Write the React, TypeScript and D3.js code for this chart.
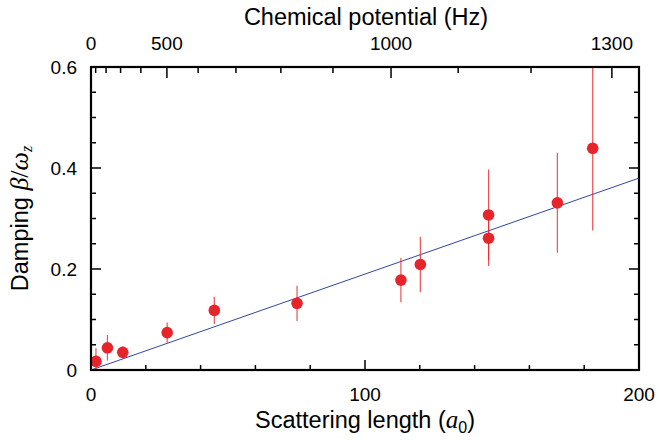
import React from "react";
import * as d3 from "d3";

// Scattering length (a0)
const scatLength = [1.8, 6.0, 11.6, 27.8, 45.0, 75.2, 113.1, 120.2, 145.1, 145.1, 170.2, 183.1];
// Damping beta/omega_z
const damping = [0.017, 0.044, 0.035, 0.074, 0.118, 0.132, 0.178, 0.209, 0.307, 0.261, 0.331, 0.439];
// Error (half-length)
const dampingErr = [0.026, 0.025, 0.012, 0.02, 0.027, 0.035, 0.044, 0.055, 0.09, 0.055, 0.099, 0.163];

// Fit line slope (damping per a0)
const fitSlope = 0.0019;
const fitRange = [0, 200];

// Bottom axis ticks
const xMajorTicks = [0, 100, 200];
const xMinorTicks = [20, 40, 60, 80, 120, 140, 160, 180];
// Left/right axis ticks
const yMajorTicks = [0, 0.2, 0.4, 0.6];
const yMinorTicks = [0.05, 0.1, 0.15, 0.25, 0.3, 0.35, 0.45, 0.5, 0.55];
const yTickLabels = ["0", "0.2", "0.4", "0.6"];

// Top axis: chemical potential (Hz) and equivalent scattering length (a0)
const topMu = [0, 100, 200, 300, 400, 500, 600, 700, 800, 900, 1000, 1100, 1200, 1300];
const topMuAsA = [0, 1.7, 5.5, 10.8, 18.2, 27.7, 39.1, 52.9, 69.3, 88.3, 109.5, 134, 160.6, 190.1];
const topLabelled = [0, 500, 1000, 1300];

const W = 659;
const H = 440;
const M = { left: 91, right: 639, top: 67, bottom: 370 };

export default function App() {
  const x = d3.scaleLinear().domain([0, 200]).range([M.left, M.right]);
  const y = d3.scaleLinear().domain([0, 0.6]).range([M.bottom, M.top]);
  const line = d3
    .line<number>()
    .x((d) => x(d))
    .y((d) => y(d * fitSlope));

  const red = "#e8242b";
  const font = "'Liberation Sans', Arial, Helvetica, sans-serif";
  const mathFont = "'Liberation Serif', 'DejaVu Serif', serif";

  return (
    <svg
      width={W}
      height={H}
      style={{ position: "absolute", left: 0, top: 0, background: "#fff" }}
      fontFamily={font}
    >
      <defs>
        <clipPath id="plotClip">
          <rect x={M.left} y={M.top} width={M.right - M.left} height={M.bottom - M.top} />
        </clipPath>
      </defs>

      {/* fit line */}
      <path
        d={line(fitRange) || ""}
        stroke="#3346a0"
        strokeWidth={1}
        fill="none"
        clipPath="url(#plotClip)"
      />

      {/* error bars */}
      <g clipPath="url(#plotClip)">
        {scatLength.map((a, i) => (
          <line
            key={"e" + i}
            x1={x(a)}
            x2={x(a)}
            y1={y(damping[i] - dampingErr[i])}
            y2={y(damping[i] + dampingErr[i])}
            stroke={red}
            strokeWidth={1.2}
            strokeOpacity={0.8}
          />
        ))}
        {scatLength.map((a, i) => (
          <circle key={"p" + i} cx={x(a)} cy={y(damping[i])} r={5.8} fill={red} />
        ))}
      </g>

      {/* ticks */}
      <g stroke="#000" strokeWidth={1.5}>
        {xMajorTicks.map((t) => (
          <g key={"xm" + t}>
            <line x1={x(t)} x2={x(t)} y1={M.bottom} y2={M.bottom - 10} />
          </g>
        ))}
        {xMinorTicks.map((t) => (
          <line key={"xn" + t} x1={x(t)} x2={x(t)} y1={M.bottom} y2={M.bottom - 5} />
        ))}
        {yMajorTicks.map((t) => (
          <g key={"ym" + t}>
            <line x1={M.left} x2={M.left + 10} y1={y(t)} y2={y(t)} />
            <line x1={M.right} x2={M.right - 10} y1={y(t)} y2={y(t)} />
          </g>
        ))}
        {yMinorTicks.map((t) => (
          <g key={"yn" + t}>
            <line x1={M.left} x2={M.left + 5} y1={y(t)} y2={y(t)} />
            <line x1={M.right} x2={M.right - 5} y1={y(t)} y2={y(t)} />
          </g>
        ))}
        {topMu.map((mu, i) => (
          <line
            key={"tm" + mu}
            x1={x(topMuAsA[i])}
            x2={x(topMuAsA[i])}
            y1={M.top}
            y2={M.top + (topLabelled.includes(mu) && mu !== 0 ? 11 : 6)}
          />
        ))}
      </g>

      {/* frame */}
      <rect
        x={M.left}
        y={M.top}
        width={M.right - M.left}
        height={M.bottom - M.top}
        fill="none"
        stroke="#000"
        strokeWidth={2.2}
      />

      {/* tick labels */}
      <g fontSize={19} fill="#000">
        {xMajorTicks.map((t) => (
          <text key={"xl" + t} x={x(t)} y={401} textAnchor="middle">
            {t}
          </text>
        ))}
        {yMajorTicks.map((t, i) => (
          <text key={"yl" + t} x={77} y={y(t)} dy="0.36em" textAnchor="end">
            {yTickLabels[i]}
          </text>
        ))}
        {topMu.map((mu, i) =>
          topLabelled.includes(mu) ? (
            <text key={"tl" + mu} x={x(topMuAsA[i])} y={50} textAnchor="middle">
              {mu}
            </text>
          ) : null
        )}
      </g>

      {/* axis titles */}
      <text x={366} y={25} textAnchor="middle" fontSize={23.5}>
        Chemical potential (Hz)
      </text>
      <text x={365} y={428} textAnchor="middle" fontSize={23.5}>
        Scattering length (
        <tspan fontFamily={mathFont} fontStyle="italic" fontSize={25}>a</tspan>
        <tspan fontSize={16} dy={5}>0</tspan>
        <tspan dy={-5}>)</tspan>
      </text>
      <text
        transform={`translate(28, ${(M.top + M.bottom) / 2}) rotate(-90)`}
        textAnchor="middle"
        fontSize={23.5}
      >
        Damping{" "}
        <tspan fontFamily={mathFont} fontStyle="italic" fontSize={26}>β</tspan>
        <tspan fontFamily={mathFont} fontSize={26}>/</tspan>
        <tspan fontFamily={mathFont} fontStyle="italic" fontSize={26}>ω</tspan>
        <tspan fontFamily={mathFont} fontStyle="italic" fontSize={16} dy={4}>z</tspan>
      </text>
    </svg>
  );
}
